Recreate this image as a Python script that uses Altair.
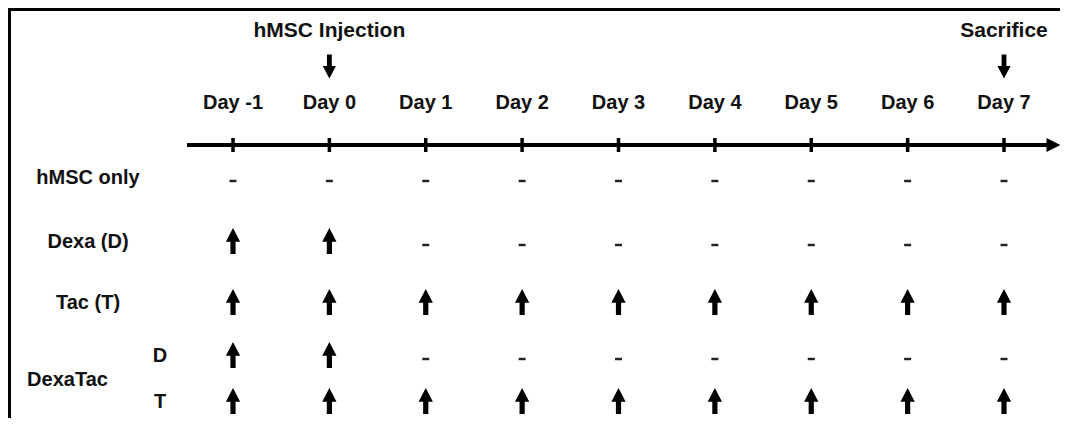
import altair as alt
import pandas as pd

# ---------------- data ----------------
DAYS = [-1, 0, 1, 2, 3, 4, 5, 6, 7]
DAY_LABELS = ["Day -1", "Day 0", "Day 1", "Day 2", "Day 3", "Day 4", "Day 5", "Day 6", "Day 7"]

EVENTS = ["hMSC Injection", "Sacrifice"]
EVENT_DAYS = [0, 7]

ROWS = ["hMSC only", "Dexa (D)", "Tac (T)", "D", "T"]
# 1 = dose given that day (arrow), 0 = nothing (dash)
DOSE_HMSC_ONLY = [0, 0, 0, 0, 0, 0, 0, 0, 0]
DOSE_DEXA = [1, 1, 0, 0, 0, 0, 0, 0, 0]
DOSE_TAC = [1, 1, 1, 1, 1, 1, 1, 1, 1]
DOSE_DEXATAC_D = [1, 1, 0, 0, 0, 0, 0, 0, 0]
DOSE_DEXATAC_T = [1, 1, 1, 1, 1, 1, 1, 1, 1]
DOSES = [DOSE_HMSC_ONLY, DOSE_DEXA, DOSE_TAC, DOSE_DEXATAC_D, DOSE_DEXATAC_T]

GROUP_LABELS = ["hMSC only", "Dexa (D)", "Tac (T)"]
COMBO_LABEL = "DexaTac"
SUB_LABELS = ["D", "T"]

# ---------------- layout (view pixels -> scale domains) ----------------
W, H = 1052, 410
PX_PER_DAY = 96.375
X0 = -1 - 225 / PX_PER_DAY
X_DOMAIN = [X0, X0 + W / PX_PER_DAY]


def xday(px):
    return X0 + px / PX_PER_DAY


LANE = {
    "event": 23, "pointer": 58.5, "daylabel": 94.5, "axis": 137,
    "tick_top": 130, "tick_bottom": 144,
    "hMSC only": 170, "Dexa (D)": 234, "Tac (T)": 295, "D": 348, "T": 394,
    "DexaTac": 372,
}
LABEL_X = xday(80)
COMBO_X = xday(59.5)
SUB_X = xday(152)
AXIS_START = xday(179)
AXIS_END = xday(1040)
AXIS_TIP = xday(1045.5)

FONT = "Liberation Sans"
FS = 20
FS_EVENT = 21
INK = "#111111"

UP = "M0,-1 L0.55,0.05 L0.2,0.05 L0.2,1 L-0.2,1 L-0.2,0.05 L-0.55,0.05 Z"
DOWN = "M0,1 L0.55,-0.05 L0.2,-0.05 L0.2,-1 L-0.2,-1 L-0.2,-0.05 L-0.55,-0.05 Z"
DASH = "M-1,-0.35 L1,-0.35 L1,0.35 L-1,0.35 Z"
HEAD = "M1,0 L-1,-1 L-1,1 Z"

xs = alt.Scale(domain=X_DOMAIN, range=[0, W], nice=False, zero=False)
ys = alt.Scale(domain=[0, H], range=[0, H], nice=False, zero=False)


def X(field="x"):
    return alt.X(f"{field}:Q", scale=xs, axis=None)


def Y(field="y"):
    return alt.Y(f"{field}:Q", scale=ys, axis=None)


# ---------------- tables ----------------
days_df = pd.DataFrame({"x": DAYS, "label": DAY_LABELS,
                        "y": LANE["daylabel"], "t0": LANE["tick_top"], "t1": LANE["tick_bottom"]})
events_df = pd.DataFrame({"x": EVENT_DAYS, "label": EVENTS,
                          "y": LANE["event"], "yp": LANE["pointer"]})
axis_df = pd.DataFrame({"x": [AXIS_START], "x2": [AXIS_END], "tip": [AXIS_TIP], "y": [LANE["axis"]]})

cells = []
for row, doses in zip(ROWS, DOSES):
    for d, v in zip(DAYS, doses):
        cells.append({"row": row, "x": d, "dose": v,
                      "y": LANE[row] + (-1 if v else 3)})
cells_df = pd.DataFrame(cells)

labels_df = pd.DataFrame(
    {"label": GROUP_LABELS + [COMBO_LABEL] + SUB_LABELS,
     "x": [LABEL_X] * 3 + [COMBO_X] + [SUB_X] * 2,
     "y": [LANE[g] for g in GROUP_LABELS] + [LANE["DexaTac"]] + [LANE[s] for s in SUB_LABELS]})

frame_df = pd.DataFrame({"k": [0]})

# ---------------- marks ----------------
frame_top = alt.Chart(frame_df).mark_rule(color="black", strokeWidth=3).encode(
    x=alt.value(0), x2=alt.value(W), y=alt.value(1.5))
frame_left = alt.Chart(frame_df).mark_rule(color="black", strokeWidth=3).encode(
    x=alt.value(1.5), y=alt.value(0), y2=alt.value(H))

axis_line = alt.Chart(axis_df).mark_rule(color="black", strokeWidth=4).encode(
    x=X(), x2="x2:Q", y=Y())
axis_head = alt.Chart(axis_df).mark_point(shape=HEAD, filled=True, size=196, color="black", opacity=1).encode(
    x=X("tip"), y=Y())
ticks = alt.Chart(days_df).mark_rule(color="black", strokeWidth=3.5).encode(
    x=X(), y=Y("t0"), y2="t1:Q")
day_text = alt.Chart(days_df).mark_text(font=FONT, fontSize=FS, fontWeight="bold", color=INK,
                                        align="center", baseline="middle").encode(
    x=X(), y=Y(), text="label:N")
event_text = alt.Chart(events_df).mark_text(font=FONT, fontSize=FS_EVENT, fontWeight="bold", color=INK,
                                            align="center", baseline="middle").encode(
    x=X(), y=Y(), text="label:N")
event_ptr = alt.Chart(events_df).mark_point(shape=DOWN, filled=True, size=576, color="black", opacity=1).encode(
    x=X(), y=Y("yp"))

up_arrows = alt.Chart(cells_df).transform_filter("datum.dose == 1").mark_point(
    shape=UP, filled=True, size=676, color="black", opacity=1).encode(x=X(), y=Y())
dashes = alt.Chart(cells_df).transform_filter("datum.dose == 0").mark_point(
    shape=DASH, filled=True, size=49, color="#222222", opacity=1).encode(x=X(), y=Y())

row_text = alt.Chart(labels_df).mark_text(font=FONT, fontSize=FS, fontWeight="bold", color=INK,
                                          align="center", baseline="middle").encode(
    x=X(), y=Y(), text="label:N")

chart = alt.layer(
    frame_top, frame_left, axis_line, axis_head, ticks, day_text, event_text, event_ptr,
    up_arrows, dashes, row_text
).properties(
    width=W, height=H, padding=0, autosize=alt.AutoSizeParams(type="none"),
    background="white"
).configure_view(stroke=None)

chart.save("out.html", embed_options={"renderer": "svg", "actions": False})
